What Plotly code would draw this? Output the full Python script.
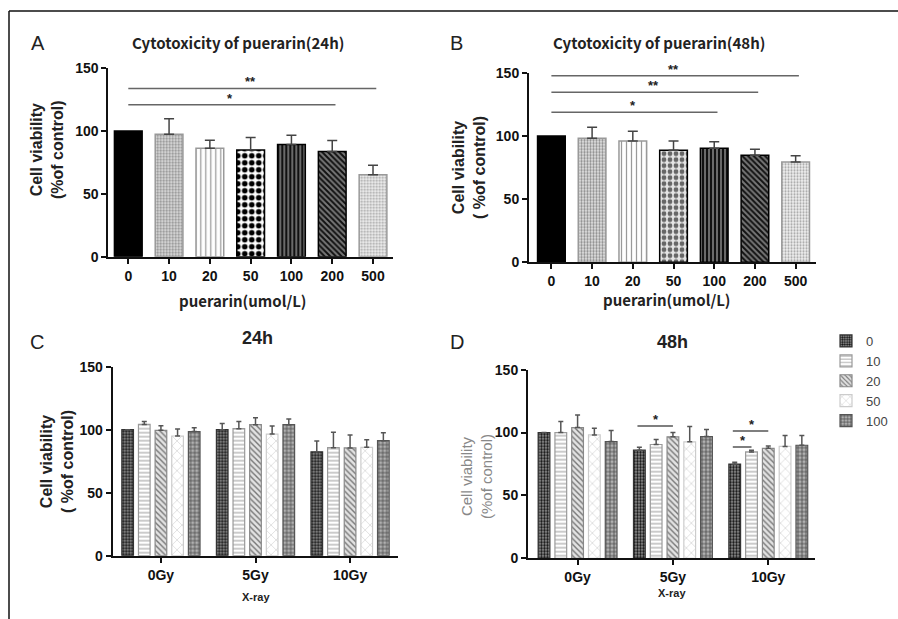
import plotly.graph_objects as go

W, H = 898, 619

# ---------------- data ----------------
conc = ["0", "10", "20", "50", "100", "200", "500"]
a_mean = [100, 97.4, 86.3, 84.9, 89.4, 83.8, 65.3]
a_err = [0, 12.4, 6.4, 10.1, 7.2, 8.8, 7.6]
b_mean = [100, 98.2, 96.0, 88.7, 90.2, 84.7, 79.4]
b_err = [0, 8.7, 7.7, 7.3, 5.1, 4.7, 4.8]

# significance: (from category, to category, height, label)
sig_a = [(0, 5, 121, "*"), (0, 6, 134, "**")]
sig_b = [(0, 4, 118.7, "*"), (0, 5, 134.6, "**"), (0, 6, 147.5, "**")]

doses = ["0Gy", "5Gy", "10Gy"]
series = ["0", "10", "20", "50", "100"]

c_mean_0 = [100, 100, 82.5]
c_mean_10 = [104.2, 100.8, 85.7]
c_mean_20 = [99.5, 104.0, 85.5]
c_mean_50 = [95.0, 96.5, 86.0]
c_mean_100 = [98.5, 104.0, 91.3]
c_err_0 = [0, 5.0, 8.5]
c_err_10 = [2.4, 5.8, 12.3]
c_err_20 = [3.7, 5.5, 10.3]
c_err_50 = [5.5, 6.5, 6.0]
c_err_100 = [3.1, 4.5, 6.3]

d_mean_0 = [100, 86.0, 75.0]
d_mean_10 = [100, 90.5, 84.6]
d_mean_20 = [104.0, 96.6, 87.5]
d_mean_50 = [98.1, 92.6, 89.0]
d_mean_100 = [92.8, 96.8, 89.9]
d_err_0 = [0, 2.3, 1.4]
d_err_10 = [8.8, 3.9, 1.4]
d_err_20 = [10.0, 3.4, 1.9]
d_err_50 = [5.3, 12.2, 8.6]
d_err_100 = [8.8, 5.6, 7.7]

# (dose index, bar i, bar j, height, label)
sig_d = [(1, 0, 2, 105.3, "*"), (2, 0, 2, 101.3, "*"), (2, 0, 1, 88.6, "*")]

c_means = [c_mean_0, c_mean_10, c_mean_20, c_mean_50, c_mean_100]
c_errs = [c_err_0, c_err_10, c_err_20, c_err_50, c_err_100]
d_means = [d_mean_0, d_mean_10, d_mean_20, d_mean_50, d_mean_100]
d_errs = [d_err_0, d_err_10, d_err_20, d_err_50, d_err_100]

# ---------------- styles ----------------
FONT = "Liberation Sans, Arial, sans-serif"
JFONT = "Noto Sans CJK JP, Liberation Sans, sans-serif"

a_shape = ["", ".", "|", ".", "|", "\\", "."]
a_fg = ["#000000", "#8a8a8a", "#9a9a9a", "#000000", "#111111", "#111111", "#a0a0a0"]
a_bg = ["#000000", "#e4e4e4", "#ffffff", "#ffffff", "#6a6a6a", "#777777", "#f0f0f0"]
a_size = [6, 3, 5, 7, 4, 4, 3]
a_sol = [0.5, 0.45, 0.25, 0.5, 0.5, 0.5, 0.4]
a_line = ["#000000", "#999999", "#999999", "#000000", "#000000", "#000000", "#999999"]

b_fg = ["#000000", "#8a8a8a", "#9a9a9a", "#666666", "#111111", "#111111", "#a0a0a0"]
b_bg = ["#000000", "#e4e4e4", "#ffffff", "#e4e4e4", "#6a6a6a", "#777777", "#f0f0f0"]
b_size = [6, 3, 5, 6, 4, 4, 3]

s_shape = [".", "-", "\\", "x", "+"]
s_fg = ["#111111", "#a8a8a8", "#777777", "#c8c8c8", "#444444"]
s_bg = ["#9a9a9a", "#ffffff", "#e2e2e2", "#ffffff", "#b0b0b0"]
s_size = [3, 4, 4, 7, 4]
s_sol = [0.5, 0.3, 0.35, 0.15, 0.35]
s_line = ["#333333", "#9a9a9a", "#888888", "#cccccc", "#555555"]


def px(x):
    return x / W


def py(y):
    return 1 - y / H


fig = go.Figure()

# Panel A / B : one trace per bar so each gets its own fill pattern
BW = 0.68
for mean, err, fg, bg, size, xa, ya in [
    (a_mean, a_err, a_fg, a_bg, a_size, "x", "y"),
    (b_mean, b_err, b_fg, b_bg, b_size, "x2", "y2"),
]:
    for i in range(len(conc)):
        fig.add_trace(go.Bar(
            x=[conc[i]], y=[mean[i]], xaxis=xa, yaxis=ya, width=BW, offset=-BW / 2,
            showlegend=False,
            marker=dict(color=bg[i], line=dict(color=a_line[i], width=1.5),
                        pattern=dict(shape=a_shape[i], fgcolor=fg[i], bgcolor=bg[i],
                                     size=size[i], solidity=a_sol[i], fillmode="replace")),
            error_y=dict(type="data", array=[err[i]], arrayminus=[0],
                         symmetric=False, color="#444444", thickness=1.5, width=5,
                         visible=err[i] > 0),
        ))

# Panel C / D
for means, errs, xa, ya, leg in [(c_means, c_errs, "x3", "y3", False),
                                 (d_means, d_errs, "x4", "y4", True)]:
    for i, name in enumerate(series):
        fig.add_trace(go.Bar(
            x=doses, y=means[i], name=name, xaxis=xa, yaxis=ya,
            showlegend=leg,
            marker=dict(color=s_bg[i], line=dict(color=s_line[i], width=1.2),
                        pattern=dict(shape=s_shape[i], fgcolor=s_fg[i], bgcolor=s_bg[i],
                                     size=s_size[i], solidity=s_sol[i], fillmode="replace")),
            error_y=dict(type="data", array=errs[i], arrayminus=[0] * 3,
                         symmetric=False, color="#555555", thickness=1.5, width=2.5),
        ))

# axes
ydom = {
    "A": [py(256.7), py(68.3)],
    "B": [py(262.3), py(72.7)],
    "C": [py(555.7), py(366.7)],
    "D": [py(558.3), py(369.7)],
}
xdom = {
    "A": [px(108.3), px(393)],
    "B": [px(529), px(816)],
    "C": [px(112.7), px(398.3)],
    "D": [px(528), px(815)],
}
xr = {"A": [-0.49, 6.49], "B": [-0.55, 6.5], "C": [-0.51, 2.51], "D": [-0.52, 2.49]}
xcats = {"A": conc, "B": conc, "C": doses, "D": doses}

tickfont = dict(family=FONT, size=14, color="#111111", weight="bold")
layout_axes = {}
for k, (xn, yn, xa, ya) in zip("ABCD", [("xaxis", "yaxis", "x", "y"),
                                        ("xaxis2", "yaxis2", "x2", "y2"),
                                        ("xaxis3", "yaxis3", "x3", "y3"),
                                        ("xaxis4", "yaxis4", "x4", "y4")]):
    layout_axes[xn] = dict(domain=xdom[k], anchor=ya, type="category",
                           categoryorder="array", categoryarray=xcats[k], range=xr[k],
                           showline=True, linecolor="#111111", linewidth=2,
                           ticks="outside", ticklen=5, tickwidth=1.5, tickcolor="#111111",
                           tickfont=tickfont, showgrid=False, zeroline=False,
                           fixedrange=True, automargin=False)
    layout_axes[yn] = dict(domain=ydom[k], anchor=xa, range=[0, 150],
                           tickvals=[0, 50, 100, 150],
                           showline=True, linecolor="#111111", linewidth=2,
                           ticks="outside", ticklen=5, tickwidth=2, tickcolor="#111111",
                           tickfont=tickfont, showgrid=False, zeroline=False,
                           fixedrange=True, automargin=False)

fig.update_layout(**layout_axes)

# significance lines
shapes = []
annots = []
for sig, xref, yref in [(sig_a, "x", "y"), (sig_b, "x2", "y2")]:
    for c0, c1, h, lab in sig:
        shapes.append(dict(type="line", xref=xref, yref=yref, x0=c0, x1=c1 + 0.08,
                           y0=h, y1=h, line=dict(color="#666666", width=1.5)))
        annots.append(dict(xref=xref, yref=yref, x=(c0 + c1) / 2, y=h, text=lab,
                           showarrow=False, yanchor="bottom", yshift=-3,
                           font=dict(family=FONT, size=13, color="#222222", weight="bold")))

bargap, ngroup = 0.12, len(series)
pitch = (1 - bargap) / ngroup
for g, i, j, h, lab in sig_d:
    x0 = g + (i - (ngroup - 1) / 2) * pitch
    x1 = g + (j - (ngroup - 1) / 2) * pitch
    shapes.append(dict(type="line", xref="x4", yref="y4", x0=x0 - 0.02, x1=x1,
                       y0=h, y1=h, line=dict(color="#555555", width=1.5)))
    annots.append(dict(xref="x4", yref="y4", x=(x0 + x1) / 2, y=h, text=lab,
                       showarrow=False, yanchor="bottom", yshift=-3,
                       font=dict(family=FONT, size=13, color="#222222", weight="bold")))

# frame lines
shapes.append(dict(type="line", xref="paper", yref="paper", x0=px(9), x1=1,
                   y0=py(11), y1=py(11), line=dict(color="#111111", width=1.5)))
shapes.append(dict(type="line", xref="paper", yref="paper", x0=px(9), x1=px(9),
                   y0=0, y1=py(11), line=dict(color="#111111", width=1.5)))


def text(x, y, t, size, family=FONT, bold=True, color="#222222", angle=0):
    annots.append(dict(xref="paper", yref="paper", x=px(x), y=py(y), text=t,
                       showarrow=False, xanchor="center", yanchor="middle",
                       textangle=angle, borderpad=0,
                       font=dict(family=family, size=size, color=color,
                                 weight="bold" if bold else "normal")))


# panel letters
text(38, 43, "A", 20, bold=False)
text(457, 43, "B", 20, bold=False)
text(37, 342, "C", 20, bold=False)
text(457, 342, "D", 20, bold=False)

# titles
text(238, 43, "Cytotoxicity of puerarin(24h)", 15, family=JFONT)
text(659, 43, "Cytotoxicity of puerarin(48h)", 15, family=JFONT)
text(257, 338, "24h", 18)
text(672, 342, "48h", 18)

# y titles
text(47, 150, "Cell viability<br>(%of control)", 16, angle=-90)
text(469, 168, "Cell viability<br>( %of control)", 16, angle=-90)
text(57, 462, "Cell viability<br>( %of control)", 16, angle=-90)
text(476, 477, "Cell viability<br>(%of control)", 15, bold=False, color="#888888", angle=-90)

# x titles
text(243, 300, "puerarin(umol/L)", 15, family=JFONT)
text(667, 299, "puerarin(umol/L)", 15, family=JFONT)
text(256, 597, "X-ray", 11)
text(672, 593, "X-ray", 11)

fig.update_layout(
    width=W, height=H,
    margin=dict(l=0, r=0, t=0, b=0, pad=0, autoexpand=False),
    paper_bgcolor="white", plot_bgcolor="white",
    barmode="group", bargap=bargap, bargroupgap=0.3,
    shapes=shapes, annotations=annots,
    legend=dict(x=px(826), y=py(326), xanchor="left", yanchor="top",
                font=dict(family=FONT, size=13, color="#444444"),
                bgcolor="rgba(0,0,0,0)", tracegroupgap=0, itemwidth=30),
    font=dict(family=FONT),
)

fig.write_html("out.html", config={"displayModeBar": False},
               post_script="document.body.style.margin='0px';document.body.style.overflow='hidden';")
